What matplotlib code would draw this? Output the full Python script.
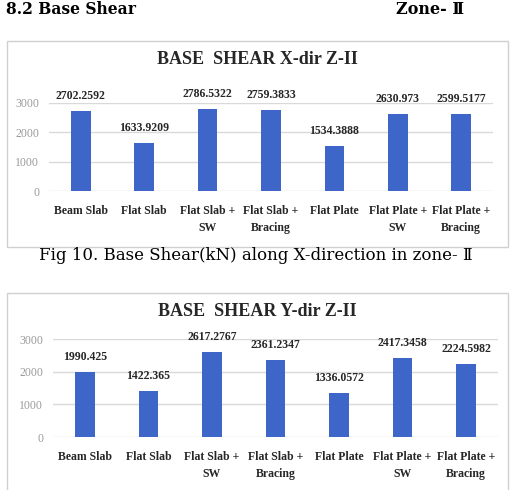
import matplotlib
matplotlib.use("Agg")
import matplotlib.pyplot as plt
from matplotlib.patches import Rectangle

categories = ["Beam Slab", "Flat Slab", "Flat Slab +\nSW", "Flat Slab +\nBracing",
              "Flat Plate", "Flat Plate +\nSW", "Flat Plate +\nBracing"]
shear_x = [2702.2592, 1633.9209, 2786.5322, 2759.3833, 1534.3888, 2630.973, 2599.5177]
shear_y = [1990.425, 1422.365, 2617.2767, 2361.2347, 1336.0572, 2417.3458, 2224.5982]
labels_x = ["2702.2592", "1633.9209", "2786.5322", "2759.3833", "1534.3888", "2630.973", "2599.5177"]
labels_y = ["1990.425", "1422.365", "2617.2767", "2361.2347", "1336.0572", "2417.3458", "2224.5982"]
yticks = [0, 1000, 2000, 3000]

W, H = 513, 490
bar_color = "#3D66C8"
chart_font = "Liberation Serif"

fig = plt.figure(figsize=(W / 100, H / 100), dpi=100)


def px(x, y):
    return x / W, 1 - y / H


def chart(values, labels, title, box, ax_rect, title_y):
    x0, y0, x1, y1 = box
    fig.patches.append(Rectangle(px(x0, y1), (x1 - x0) / W, (y1 - y0) / H,
                                 transform=fig.transFigure, facecolor="white",
                                 edgecolor="#d0d0d0", linewidth=1, zorder=-5))
    fig.text(*px((x0 + x1) / 2, title_y), title, ha="center", va="center",
             fontsize=13, fontweight="bold", family=chart_font, color="#262626")
    l, t, r, b = ax_rect
    ax = fig.add_axes([l / W, 1 - b / H, (r - l) / W, (b - t) / H])
    ax.set_zorder(2)
    ax.patch.set_alpha(0)
    idx = range(len(categories))
    ax.bar(idx, values, width=0.31, color=bar_color, zorder=3)
    for i, (v, s) in enumerate(zip(values, labels)):
        ax.annotate(s, (i, v), xytext=(0, 10.8), textcoords="offset points",
                    ha="center", va="center", fontsize=8.5, fontweight="bold",
                    family=chart_font, color="#262626", annotation_clip=False)
    ax.set_ylim(0, 3000)
    ax.set_xlim(-0.5, len(categories) - 0.5)
    ax.set_yticks(yticks)
    ax.set_yticklabels([str(t) for t in yticks], family=chart_font, fontsize=8.5, color="#9a9a9a")
    ax.set_xticks(list(idx))
    ax.set_xticklabels(categories, family=chart_font, fontsize=8.5, fontweight="bold",
                       color="#262626", linespacing=1.6)
    ax.tick_params(axis="x", length=0, pad=10)
    ax.tick_params(axis="y", length=0, pad=7)
    ax.grid(axis="y", color="#d9d9d9", linewidth=1, zorder=0)
    for sp in ax.spines.values():
        sp.set_visible(False)
    return ax


fig.text(*px(6, 9), "8.2 Base Shear", ha="left", va="center", fontsize=11.2,
         fontweight="bold", family=["DejaVu Serif", "DejaVu Sans"])
fig.text(*px(396, 9), "Zone- \u2161", ha="left", va="center", fontsize=11.5,
         fontweight="bold", family=["DejaVu Serif", "DejaVu Sans"])

chart(shear_x, labels_x, "BASE  SHEAR X-dir Z-II", (7, 41, 508, 247), (49, 102.7, 493, 191), 60)
fig.text(*px(256, 255), "Fig 10. Base Shear(kN) along X-direction in zone- \u2161",
         ha="center", va="center", fontsize=12, family=["DejaVu Serif", "DejaVu Sans"])

chart(shear_y, labels_y, "BASE  SHEAR Y-dir Z-II", (7, 293, 508, 496), (53, 339, 498, 437), 312)

fig.savefig("out.png", dpi=100)
